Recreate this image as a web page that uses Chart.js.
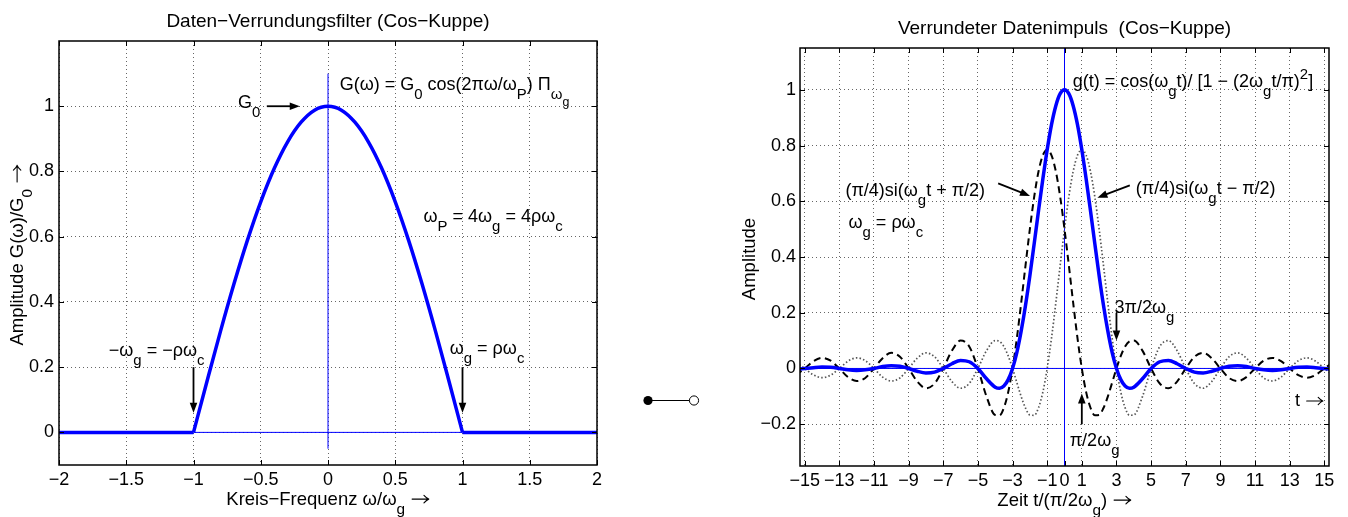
<!DOCTYPE html>
<html>
<head>
<meta charset="utf-8">
<script src="https://cdn.jsdelivr.net/npm/chart.js@4.4.0/dist/chart.umd.min.js"></script>
<style>
  html, body { margin: 0; padding: 0; background: #fff; }
  #wrap { position: relative; width: 1348px; height: 517px; overflow: hidden; }
  #filterChart { position: absolute; left: 0; top: 0; }
  #pulseChart { position: absolute; left: 680px; top: 0; }
  #link { position: absolute; left: 0; top: 0; pointer-events: none; }
</style>
</head>
<body>
<div id="wrap">
  <canvas id="filterChart" width="640" height="517"></canvas>
  <canvas id="pulseChart" width="668" height="517"></canvas>
  <svg id="link" width="1348" height="517">
    <line x1="648" y1="400.5" x2="694" y2="400.5" stroke="#000" stroke-width="1"/>
    <circle cx="648" cy="400.5" r="4.6" fill="#000"/>
    <circle cx="694" cy="400.5" r="4.6" fill="#fff" stroke="#000" stroke-width="1"/>
  </svg>
</div>
<script>
const FONT = '"Liberation Sans", Arial, Helvetica, sans-serif';
Chart.defaults.font.family = FONT;
Chart.defaults.font.size = 18;
Chart.defaults.color = '#000';

// left: filter G(w)/G0 over w/wg
const filterW = [-1, -0.9, -0.8, -0.7, -0.6, -0.5, -0.4, -0.3, -0.2, -0.1, 0,
                 0.1, 0.2, 0.3, 0.4, 0.5, 0.6, 0.7, 0.8, 0.9, 1];
const filterG = [0, 0.156, 0.309, 0.454, 0.588, 0.707, 0.809, 0.891, 0.951, 0.988, 1,
                 0.988, 0.951, 0.891, 0.809, 0.707, 0.588, 0.454, 0.309, 0.156, 0];
const stopLeftW = [-2, -1];
const stopRightW = [1, 2];
const stopG = [0, 0];
const filterAxisW = [-1, 1];
const filterAxisG = [0, 0];
const filterCenterW = [0, 0];
const filterCenterG = [-0.05, 1.1];

const filterTicksX = [-2, -1.5, -1, -0.5, 0, 0.5, 1, 1.5, 2];
const filterTicksY = [0, 0.2, 0.4, 0.6, 0.8, 1];

// right: pulse g(t) and the two si parts, t in units of pi/(2 wg)
const pulseT = [-15.5, -15, -14.5, -14, -13.5, -13, -12.5, -12, -11.5, -11, -10.5, -10,
  -9.5, -9, -8.5, -8, -7.5, -7, -6.5, -6, -5.5, -5, -4.5,
  -4, -3.75, -3.5, -3.25, -3, -2.75, -2.5, -2.25, -2, -1.75, -1.5, -1.25, -1, -0.75, -0.5, -0.25,
  0, 0.25, 0.5, 0.75, 1, 1.25, 1.5, 1.75, 2, 2.25, 2.5, 2.75, 3, 3.25, 3.5, 3.75, 4,
  4.5, 5, 5.5, 6, 6.5, 7, 7.5, 8, 8.5, 9, 9.5, 10, 10.5, 11, 11.5, 12, 12.5, 13, 13.5, 14,
  14.5, 15, 15.5];
const pulseG = [-0.003, 0, 0.003, 0.005, 0.004, 0, -0.005, -0.007, -0.005, 0, 0.007, 0.010,
  0.008, 0, -0.010, -0.016, -0.013, 0, 0.017, 0.029, 0.024, 0, -0.037,
  -0.067, -0.071, -0.063, -0.040, 0, 0.058, 0.135, 0.227, 0.333, 0.448, 0.566, 0.680, 0.785, 0.875, 0.943, 0.986,
  1, 0.986, 0.943, 0.875, 0.785, 0.680, 0.566, 0.448, 0.333, 0.227, 0.135, 0.058, 0, -0.040, -0.063, -0.071, -0.067,
  -0.037, 0, 0.024, 0.029, 0.017, 0, -0.013, -0.016, -0.010, 0, 0.008, 0.010, 0.007, 0, -0.005, -0.007, -0.005, 0, 0.004, 0.005,
  0.003, 0, -0.003];
const siPlus = [-0.024, 0, 0.026, 0.038, 0.028, 0, -0.031, -0.045, -0.034, 0, 0.037, 0.056,
  0.042, 0, -0.047, -0.071, -0.054, 0, 0.064, 0.1, 0.079, 0, -0.101,
  -0.167, -0.168, -0.141, -0.085, 0, 0.109, 0.236, 0.370, 0.5, 0.616, 0.707, 0.765, 0.785, 0.765, 0.707, 0.616,
  0.5, 0.370, 0.236, 0.109, 0, -0.085, -0.141, -0.168, -0.167, -0.142, -0.101, -0.051, 0, 0.045, 0.079, 0.097, 0.1,
  0.064, 0, -0.054, -0.071, -0.047, 0, 0.042, 0.056, 0.037, 0, -0.034, -0.045, -0.031, 0, 0.028, 0.038, 0.026, 0, -0.024, -0.033,
  -0.023, 0, 0.021];
const siMinus = [0.021, 0, -0.023, -0.033, -0.024, 0, 0.026, 0.038, 0.028, 0, -0.031, -0.045,
  -0.034, 0, 0.037, 0.056, 0.042, 0, -0.047, -0.071, -0.054, 0, 0.064,
  0.1, 0.097, 0.079, 0.045, 0, -0.051, -0.101, -0.142, -0.167, -0.168, -0.141, -0.085, 0, 0.109, 0.236, 0.370,
  0.5, 0.616, 0.707, 0.765, 0.785, 0.765, 0.707, 0.616, 0.5, 0.370, 0.236, 0.109, 0, -0.085, -0.141, -0.168, -0.167,
  -0.101, 0, 0.079, 0.1, 0.064, 0, -0.054, -0.071, -0.047, 0, 0.042, 0.056, 0.037, 0, -0.034, -0.045, -0.031, 0, 0.028, 0.038,
  0.026, 0, -0.024];
const pulseAxisT = [-16, 16];
const pulseAxisG = [0, 0];
const pulseCenterT = [0, 0];
const pulseCenterG = [-0.35, 1.15];

const pulseTicksX = [-15, -13, -11, -9, -7, -5, -3, -1, 0, 1, 3, 5, 7, 9, 11, 13, 15];
const pulseTicksY = [-0.2, 0, 0.2, 0.4, 0.6, 0.8, 1];

const BLUE = '#0000ff';
const GRID = 'rgba(0,0,0,0.6)';

const pts = (xs, ys) => xs.map((x, i) => ({ x: x, y: ys[i] }));
const fmt = v => String(Math.round(v * 100) / 100).replace('-', '\u2212');

// tiny TeX-ish text: a_{sub}, a^{sup}; the arrow is drawn by hand
function parseRich(s) {
  const out = [];
  let i = 0;
  function run(scale, dy) {
    let buf = '';
    const flush = () => { if (buf) { out.push({ t: buf, scale, dy }); buf = ''; } };
    while (i < s.length) {
      const ch = s[i];
      if (ch === '}') { i++; flush(); return; }
      if ((ch === '_' || ch === '^') && s[i + 1] === '{') {
        flush();
        i += 2;
        run(scale * 0.83, dy + (ch === '_' ? 0.5 : -0.45) * scale);
        continue;
      }
      if (ch === '\u2192') {
        flush();
        out.push({ t: '', arrow: true, scale, dy });
        i++;
        continue;
      }
      buf += ch;
      i++;
    }
    flush();
  }
  run(1, 0);
  return out;
}

function drawRich(ctx, s, x, cy, size, align) {
  const segs = parseRich(s);
  let w = 0;
  for (const g of segs) {
    ctx.font = (size * g.scale) + 'px ' + FONT;
    g.w = g.arrow ? size * g.scale * 1.05 : ctx.measureText(g.t).width;
    w += g.w;
  }
  let cx = align === 'center' ? x - w / 2 : align === 'right' ? x - w : x;
  const base = cy + 0.36 * size;
  ctx.textAlign = 'left';
  ctx.textBaseline = 'alphabetic';
  ctx.fillStyle = '#000';
  for (const g of segs) {
    const fs = size * g.scale;
    if (g.arrow) {
      const ay = base + g.dy * size - 0.3 * fs;
      const x0 = cx + 0.1 * fs, x1 = cx + 1.0 * fs;
      ctx.save();
      ctx.strokeStyle = '#000';
      ctx.lineWidth = 1.1;
      ctx.lineCap = 'round';
      ctx.beginPath();
      ctx.moveTo(x0, ay); ctx.lineTo(x1, ay);
      ctx.moveTo(x1 - 0.26 * fs, ay - 0.2 * fs); ctx.quadraticCurveTo(x1 - 0.1 * fs, ay - 0.03 * fs, x1, ay);
      ctx.moveTo(x1 - 0.26 * fs, ay + 0.2 * fs); ctx.quadraticCurveTo(x1 - 0.1 * fs, ay + 0.03 * fs, x1, ay);
      ctx.stroke();
      ctx.restore();
    } else {
      ctx.font = fs + 'px ' + FONT;
      ctx.fillText(g.t, cx, base + g.dy * size);
    }
    cx += g.w;
  }
}

function drawArrow(ctx, x1, y1, x2, y2) {
  const a = Math.atan2(y2 - y1, x2 - x1);
  const L = 10, W = 3.8;
  ctx.strokeStyle = '#000';
  ctx.fillStyle = '#000';
  ctx.lineWidth = 1.8;
  ctx.beginPath();
  ctx.moveTo(x1, y1);
  ctx.lineTo(x2 - L * 0.7 * Math.cos(a), y2 - L * 0.7 * Math.sin(a));
  ctx.stroke();
  ctx.beginPath();
  ctx.moveTo(x2, y2);
  ctx.lineTo(x2 - L * Math.cos(a) + W * Math.sin(a), y2 - L * Math.sin(a) - W * Math.cos(a));
  ctx.lineTo(x2 - L * Math.cos(a) - W * Math.sin(a), y2 - L * Math.sin(a) + W * Math.cos(a));
  ctx.closePath();
  ctx.fill();
}

function overlay(cfg) {
  return {
    id: 'overlay',
    afterDraw(chart) {
      const ctx = chart.ctx, a = chart.chartArea;
      const xs = chart.scales.x, ys = chart.scales.y;
      const TL = 5;
      ctx.save();
      // inward tick marks on all four sides
      ctx.strokeStyle = '#000';
      ctx.lineWidth = 1;
      ctx.beginPath();
      for (const t of xs.ticks) {
        const px = Math.round(xs.getPixelForValue(t.value)) + 0.5;
        ctx.moveTo(px, a.bottom); ctx.lineTo(px, a.bottom - TL);
        ctx.moveTo(px, a.top); ctx.lineTo(px, a.top + TL);
      }
      for (const t of ys.ticks) {
        const py = Math.round(ys.getPixelForValue(t.value)) + 0.5;
        ctx.moveTo(a.left, py); ctx.lineTo(a.left + TL, py);
        ctx.moveTo(a.right, py); ctx.lineTo(a.right - TL, py);
      }
      ctx.stroke();
      ctx.lineWidth = 1.5;
      ctx.strokeRect(a.left, a.top, a.right - a.left, a.bottom - a.top);

      const X = v => xs.getPixelForValue(v), Y = v => ys.getPixelForValue(v);
      for (const ar of cfg.arrows) drawArrow(ctx, X(ar[0]), Y(ar[1]), X(ar[2]), Y(ar[3]));
      for (const tx of cfg.texts) drawRich(ctx, tx.s, X(tx.x), Y(tx.y), 18, 'left');

      const mid = (a.left + a.right) / 2;
      drawRich(ctx, cfg.title, mid, a.top - 20.5, 19, 'center');
      drawRich(ctx, cfg.xTitle, mid, a.bottom + 33, 18.5, 'center');
      ctx.translate(a.left - cfg.yTitleDx, (a.top + a.bottom) / 2 + 2);
      ctx.rotate(-Math.PI / 2);
      drawRich(ctx, cfg.yTitle, 0, 0, 18.5, 'center');
      ctx.restore();
    }
  };
}

function axis(min, max, ticks, fit, pad) {
  return {
    type: 'linear', min: min, max: max,
    afterBuildTicks: s => { s.ticks = ticks.map(v => ({ value: v })); },
    afterFit: fit,
    grid: { color: GRID, lineWidth: 1, drawTicks: false },
    border: { display: false, dash: [1, 3] },
    ticks: { padding: pad, autoSkip: false, maxRotation: 0, callback: v => fmt(v), font: { size: 18 } }
  };
}

const common = {
  responsive: false, animation: false, devicePixelRatio: 1,
  plugins: { legend: { display: false }, tooltip: { enabled: false } },
  elements: { point: { radius: 0 }, line: { fill: false, borderJoinStyle: 'round' } }
};

new Chart(document.getElementById('filterChart'), {
  type: 'line',
  data: {
    datasets: [
      { data: pts(filterW, filterG), borderColor: BLUE, borderWidth: 3.5, cubicInterpolationMode: 'monotone', clip: 0 },
      { data: pts(stopLeftW, stopG), borderColor: BLUE, borderWidth: 3.5, clip: 0 },
      { data: pts(stopRightW, stopG), borderColor: BLUE, borderWidth: 3.5, clip: 0 },
      { data: pts(filterAxisW, filterAxisG), borderColor: BLUE, borderWidth: 1, clip: 0 },
      { data: pts(filterCenterW, filterCenterG), borderColor: BLUE, borderWidth: 1, clip: 0 }
    ]
  },
  options: Object.assign({}, common, {
    layout: { padding: { top: 41, right: 43, bottom: 0, left: 0 }, autoPadding: false },
    scales: {
      x: axis(-2, 2, filterTicksX, s => { s.height = 52; }, 4),
      y: axis(-0.1, 1.2, filterTicksY, s => { s.width = 59; }, 5)
    }
  }),
  plugins: [overlay({
    title: 'Daten\u2212Verrundungsfilter (Cos\u2212Kuppe)',
    xTitle: 'Kreis\u2212Frequenz \u03c9/\u03c9_{g} \u2192',
    yTitle: 'Amplitude G(\u03c9)/G_{0} \u2192',
    yTitleDx: 43,
    texts: [
      { s: 'G_{0}', x: -0.67, y: 1.015 },
      { s: 'G(\u03c9) = G_{0} cos(2\u03c0\u03c9/\u03c9_{P}) \u03a0_{\u03c9_{g}}', x: 0.087, y: 1.07 },
      { s: '\u03c9_{P} = 4\u03c9_{g} = 4\u03c1\u03c9_{c}', x: 0.71, y: 0.666 },
      { s: '\u2212\u03c9_{g} = \u2212\u03c1\u03c9_{c}', x: -1.63, y: 0.253 },
      { s: '\u03c9_{g} = \u03c1\u03c9_{c}', x: 0.905, y: 0.259 }
    ],
    arrows: [[-0.455, 1, -0.21, 1], [-1, 0.2, -1, 0.06], [1, 0.2, 1, 0.06]]
  })]
});

new Chart(document.getElementById('pulseChart'), {
  type: 'line',
  data: {
    datasets: [
      { data: pts(pulseT, pulseG), borderColor: BLUE, borderWidth: 3.5, cubicInterpolationMode: 'monotone', clip: 0 },
      { data: pts(pulseT, siPlus), borderColor: '#000', borderWidth: 2, borderDash: [7, 4.5], cubicInterpolationMode: 'monotone', clip: 0 },
      { data: pts(pulseT, siMinus), borderColor: '#555', borderWidth: 1.7, borderDash: [1.5, 2.2], cubicInterpolationMode: 'monotone', clip: 0 },
      { data: pts(pulseAxisT, pulseAxisG), borderColor: BLUE, borderWidth: 1, clip: 0 },
      { data: pts(pulseCenterT, pulseCenterG), borderColor: BLUE, borderWidth: 1, clip: 0 }
    ]
  },
  options: Object.assign({}, common, {
    layout: { padding: { top: 48, right: 19, bottom: 0, left: 0 }, autoPadding: false },
    scales: {
      x: axis(-15.27, 15.27, pulseTicksX, s => { s.height = 51; }, 4),
      y: axis(-0.35, 1.15, pulseTicksY, s => { s.width = 120; }, 4)
    }
  }),
  plugins: [overlay({
    title: 'Verrundeter Datenimpuls  (Cos\u2212Kuppe)',
    xTitle: 'Zeit t/(\u03c0/2\u03c9_{g}) \u2192',
    yTitle: 'Amplitude',
    yTitleDx: 52,
    texts: [
      { s: 'g(t) = cos(\u03c9_{g}t)/ [1 \u2212 (2\u03c9_{g}t/\u03c0)^{2}]', x: 0.47, y: 1.032 },
      { s: '(\u03c0/4)si(\u03c9_{g}t \u2212 \u03c0/2)', x: 4.12, y: 0.65 },
      { s: '(\u03c0/4)si(\u03c9_{g}t + \u03c0/2)', x: -12.65, y: 0.643 },
      { s: '\u03c9_{g} = \u03c1\u03c9_{c}', x: -12.47, y: 0.528 },
      { s: '3\u03c0/2\u03c9_{g}', x: 2.89, y: 0.223 },
      { s: '\u03c0/2\u03c9_{g}', x: 0.3, y: -0.256 },
      { s: 't \u2192', x: 13.3, y: -0.113 }
    ],
    arrows: [[3.77, 0.657, 1.9, 0.613], [-3.83, 0.664, -1.99, 0.619], [3, 0.2, 3, 0.1], [1, -0.2, 1, -0.09]]
  })]
});
</script>
</body>
</html>
